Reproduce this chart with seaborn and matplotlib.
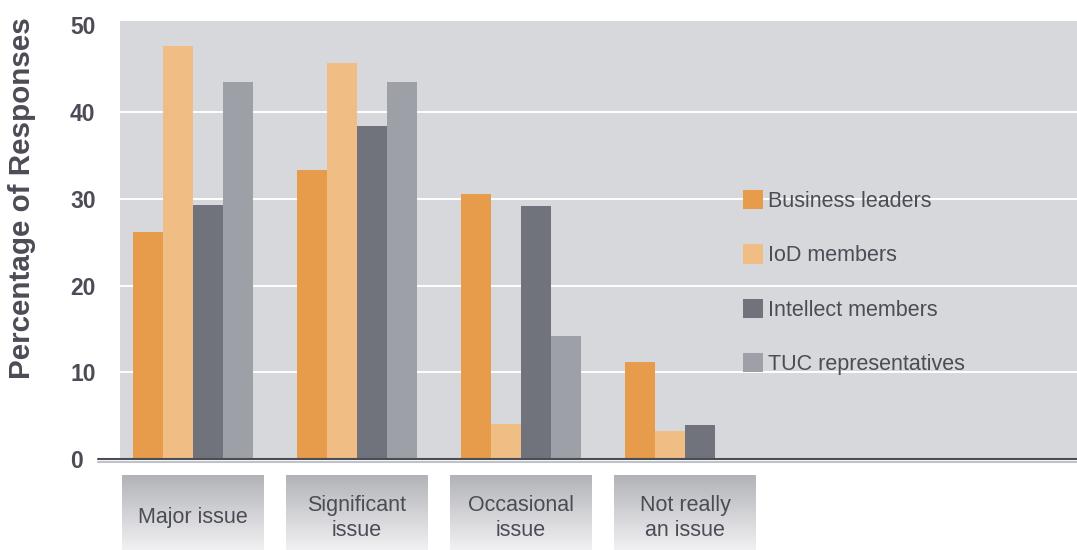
import numpy as np
import pandas as pd
import matplotlib
matplotlib.use("Agg")
import matplotlib.pyplot as plt
from matplotlib.lines import Line2D
from matplotlib.patches import Rectangle
from matplotlib.colors import to_rgb
import seaborn as sns

# Survey data: how big an issue each group considers the topic (% of responses)
categories = ["Major issue", "Significant issue", "Occasional issue", "Not really an issue"]
category_labels = ["Major issue", "Significant\nissue", "Occasional\nissue", "Not really\nan issue"]
groups = ["Business leaders", "IoD members", "Intellect members", "TUC representatives"]
business_leaders = [26.2, 33.3, 30.5, 11.2]
iod_members = [47.6, 45.6, 4.1, 3.2]
intellect_members = [29.3, 38.4, 29.2, 4.0]
tuc_representatives = [43.4, 43.4, 14.2, np.nan]
y_ticks = [0, 10, 20, 30, 40, 50]

palette = ["#E69C4B", "#F0BD85", "#70737C", "#9EA0A8"]
text_col = "#4B4C55"

rows = []
for g, vals in zip(groups, [business_leaders, iod_members, intellect_members, tuc_representatives]):
    for c, v in zip(categories, vals):
        rows.append({"category": c, "group": g, "value": v})
df = pd.DataFrame(rows)

sns.set_theme(style="white")
plt.rcParams["font.family"] = ["Liberation Sans", "DejaVu Sans"]

fig = plt.figure(figsize=(10.77, 5.5), dpi=100)
ax = fig.add_axes([120 / 1077, 1 - 459.3 / 550, 957 / 1077, (459.3 - 21) / 550])
ax.set_facecolor("#D7D8DC")

sns.barplot(data=df, x="category", y="value", hue="group", order=categories,
            hue_order=groups, palette=palette, width=0.732, gap=0,
            saturation=1, errorbar=None, linewidth=0, edgecolor="none",
            ax=ax, zorder=3)

ymax = 50.44
ax.set_ylim(0, ymax)
for t in y_ticks[1:-1]:
    ax.axhline(t, color="white", lw=1.4, zorder=1)

# Tick labels are left-aligned in a column left of the plot
ax.set_yticks(y_ticks)
ax.set_yticklabels([str(t) for t in y_ticks], fontsize=16.5, fontweight="bold", color=text_col)
ax.tick_params(axis="y", length=0, pad=36)
for lab in ax.get_yticklabels():
    lab.set_horizontalalignment("left")
ax.tick_params(axis="x", length=0, labelbottom=False)
ax.set_xlabel("")
ax.set_ylabel("Percentage of Responses", fontsize=21.3, fontweight="bold", color=text_col)
ax.yaxis.set_label_coords(-0.088, 0.596)

for s in ["top", "right", "left", "bottom"]:
    ax.spines[s].set_visible(False)
ax.add_line(Line2D([-0.023, 1], [0, 0], transform=ax.transAxes, color="#4A4D55",
                   lw=1.5, clip_on=False, zorder=5))
ax.add_line(Line2D([-0.023, 1], [-0.006, -0.006], transform=ax.transAxes, color="#BFC2C8",
                   lw=1.5, clip_on=False))

# Category labels in boxes shaded from darker grey (top) to near white (bottom)
xlim = (-0.445, 5.39)
c_top = np.array(to_rgb("#B2B3B8"))
c_bot = np.array(to_rgb("#F0F0F2"))
px = ymax / 438.3
box_top = -(475 - 459.3) * px
box_bot = -(550 - 459.3) * px
n_strips = 40
strip_h = (box_top - box_bot) / n_strips
for i, lab in enumerate(category_labels):
    for k in range(n_strips):
        f = k / (n_strips - 1)
        ax.add_patch(Rectangle((i - 0.435, box_top - (k + 1) * strip_h), 0.87, strip_h * 1.05,
                               facecolor=c_top * (1 - f) + c_bot * f, edgecolor="none",
                               clip_on=False, zorder=0))
    ax.text(i, -(518 - 459.3) * px, lab, ha="center", va="center", fontsize=15.5,
            color=text_col, linespacing=1.25, clip_on=False)
ax.set_xlim(*xlim)
ax.set_ylim(0, ymax)

handles, labels = ax.get_legend_handles_labels()
ax.legend(handles, labels, loc="upper left", bbox_to_anchor=(743 / 1077, 1 - 190 / 550),
          bbox_transform=fig.transFigure, frameon=False, fontsize=15.5,
          labelcolor=text_col, handlelength=0.93, handleheight=1.0,
          handletextpad=0.25, labelspacing=1.5, borderpad=0, borderaxespad=0)

fig.savefig("out.png", dpi=100)
